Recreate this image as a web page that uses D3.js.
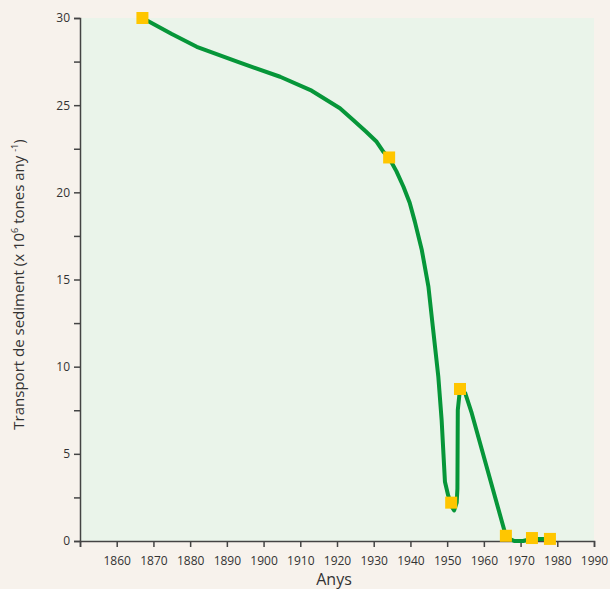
<!DOCTYPE html>
<html>
<head>
<meta charset="utf-8">
<script src="https://cdn.jsdelivr.net/npm/d3@7"></script>
<style>
  html, body { margin: 0; padding: 0; background: #f7f2ec; }
  svg { display: block; }
  text { font-family: "Open Sans", "Noto Sans", sans-serif; fill: #333; }
</style>
</head>
<body>
<svg id="chart" width="610" height="589"></svg>
<script>
// Line trace (year, sediment transport in 10^6 t/yr)
const lineYears  = [1866.9, 1868.5, 1875.0, 1881.8, 1893.0, 1904.5, 1913.1, 1920.8, 1924.4, 1927.8, 1930.8, 1932.6, 1934.2, 1936.2, 1938.1, 1939.8, 1941.2, 1943.1, 1944.9, 1946.1, 1947.6, 1948.5, 1949.4, 1950.3, 1951.3, 1951.9, 1952.6, 1952.8, 1952.9, 1953.5, 1954.9, 1956.7, 1965.8, 1967.0, 1968.3, 1970.7, 1972.6, 1978.8];
const lineValues = [30.0,   29.83,  29.08,  28.35,  27.48,  26.63,  25.83,  24.82,  24.15,  23.50,  22.90,  22.33,  21.97,  21.20,  20.32,  19.40,  18.32,  16.69,  14.59,  12.29,  9.42,   6.94,   3.40,   2.60,   1.95,   1.75,   2.20,   3.00,   7.51,   8.72,   8.49,   7.33,   0.44,   0.12,   0.0,    0.0,    0.11,   0.11];
// Measured points (square markers)
const markerYears  = [1867, 1934.2, 1951.1, 1953.5, 1966, 1973.1, 1978];
const markerValues = [30, 22, 2.2, 8.72, 0.3, 0.17, 0.12];
// Axis ticks
const xTicks = [1850, 1860, 1870, 1880, 1890, 1900, 1910, 1920, 1930, 1940, 1950, 1960, 1970, 1980, 1990];
const yTicks = [0, 2.5, 5, 7.5, 10, 12.5, 15, 17.5, 20, 22.5, 25, 27.5, 30];
const yLabels = [0, 5, 10, 15, 20, 25, 30];

const svg = d3.select("#chart");
const mLeft = 80, mRight = 594, mTop = 18, mBottom = 541;

const x = d3.scaleLinear().domain([1850, 1990]).range([mLeft, mRight]);
const y = d3.scaleLinear().domain([0, 30]).range([mBottom, mTop]);

// plot background
svg.append("rect")
  .attr("x", mLeft).attr("y", mTop)
  .attr("width", mRight - mLeft).attr("height", mBottom - mTop)
  .attr("fill", "#eaf4ea");

// X axis
const xAxis = d3.axisBottom(x).tickValues(xTicks)
  .tickSize(6).tickPadding(9)
  .tickFormat(d => d === 1850 ? "" : d);
const gx = svg.append("g").attr("transform", `translate(0,${mBottom})`).call(xAxis);
gx.select(".domain").attr("stroke", "#444").attr("stroke-width", 1.5);
gx.selectAll(".tick line").attr("stroke", "#444").attr("stroke-width", 1.5);
gx.selectAll(".tick text").style("font-size", "12px").attr("fill", "#333");

// Y axis
const yAxis = d3.axisLeft(y).tickValues(yTicks)
  .tickSize(6).tickPadding(4)
  .tickFormat(d => yLabels.includes(d) ? d : "");
const gy = svg.append("g").attr("transform", `translate(${mLeft},0)`).call(yAxis);
gy.select(".domain").attr("stroke", "#444").attr("stroke-width", 1.5);
gy.selectAll(".tick line").attr("stroke", "#444").attr("stroke-width", 1.5);
gy.selectAll(".tick text").style("font-size", "12px").attr("fill", "#333");

// line
const pts = lineYears.map((yr, i) => [yr, lineValues[i]]);
const line = d3.line()
  .x(d => x(d[0])).y(d => y(d[1]))
  .curve(d3.curveLinear);
svg.append("path")
  .datum(pts)
  .attr("d", line)
  .attr("fill", "none")
  .attr("stroke", "#069639")
  .attr("stroke-width", 4)
  .attr("stroke-linejoin", "round")
  .attr("stroke-linecap", "round");

// markers
const ms = 12;
svg.selectAll("rect.marker")
  .data(markerYears.map((yr, i) => [yr, markerValues[i]]))
  .join("rect")
  .attr("class", "marker")
  .attr("x", d => x(d[0]) - ms / 2)
  .attr("y", d => y(d[1]) - ms / 2)
  .attr("width", ms).attr("height", ms)
  .attr("fill", "#ffc600");

// axis titles
svg.append("text")
  .attr("x", (mLeft + mRight) / 2 - 3).attr("y", 585)
  .attr("text-anchor", "middle")
  .style("font-size", "16px")
  .text("Anys");

const yt = svg.append("text")
  .attr("transform", `translate(24,${(mTop + mBottom) / 2 + 5}) rotate(-90)`)
  .attr("text-anchor", "middle")
  .style("font-size", "15px");
yt.append("tspan").text("Transport de sediment (x 10");
yt.append("tspan").attr("baseline-shift", "super").style("font-size", "9px").text("6");
yt.append("tspan").text(" tones any ");
yt.append("tspan").attr("baseline-shift", "super").style("font-size", "9px").text("-1");
yt.append("tspan").text(")");
</script>
</body>
</html>
